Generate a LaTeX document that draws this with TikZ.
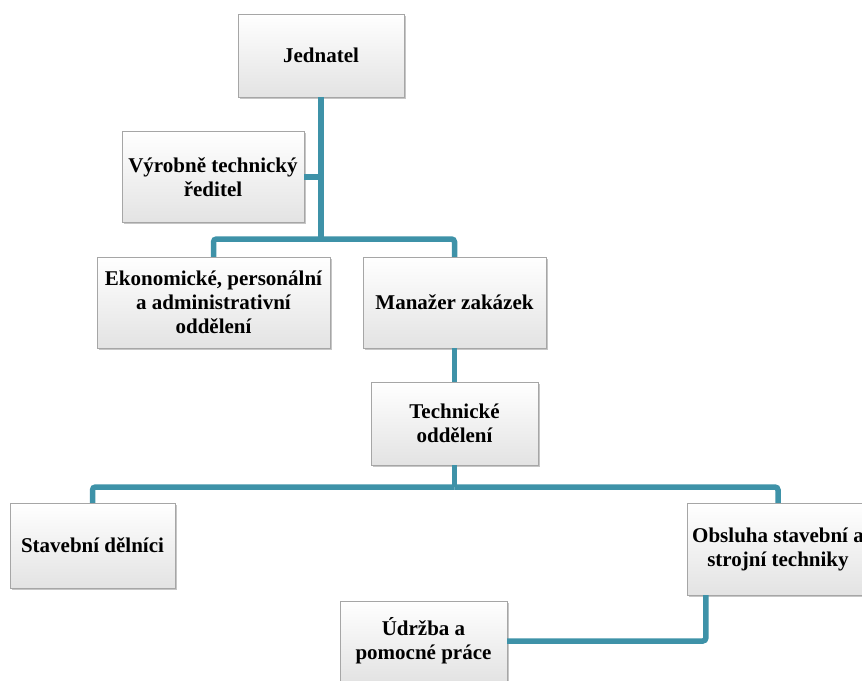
\documentclass[tikz,border=0pt]{standalone}
\usepackage{fontspec}
\setmainfont{Liberation Serif}
\usetikzlibrary{calc,shadows}

\definecolor{linkcol}{RGB}{62,146,168}

\begin{document}
\begin{tikzpicture}[x=1pt, y=-1pt,
                    box/.style ={rectangle, draw=gray!70, top color=white, bottom color=gray!22,
                                 align=center, inner sep=0pt, font=\fontsize{21}{24}\selectfont\bfseries,
                                 drop shadow={shadow xshift=1.5pt, shadow yshift=-1.5pt, opacity=0.45}},
                    link/.style={draw=linkcol, line width=5.5pt, rounded corners=3pt}]

      \useasboundingbox (0,0) rectangle (862,680);
      \node[box, minimum width=166pt, minimum height=83pt] at(321, 55.5)  (jednatel) {Jednatel};
      \node[box, minimum width=182pt, minimum height=91pt] at(213, 177)   (vyroba)   {Výrobně technický\\ředitel};
      \node[box, minimum width=233pt, minimum height=91pt] at(213.5, 302.5) (ekon)   {Ekonomické, personální\\a administrativní\\oddělení};
      \node[box, minimum width=183pt, minimum height=91pt] at(454.5, 302.5) (manazer) {Manažer zakázek};
      \node[box, minimum width=167pt, minimum height=83pt] at(454.5, 423.5) (tech)   {Technické\\oddělení};
      \node[box, minimum width=165pt, minimum height=85pt] at(92.5, 545.5)  (stav)   {Stavební dělníci};
      \node[box, minimum width=182pt, minimum height=92pt] at(778, 549)     (obsl)   {Obsluha stavební a\\strojní techniky};
      \node[box, minimum width=167pt, minimum height=80pt] at(423.5, 641)   (udrz)   {Údržba a\\pomocné práce};
      \coordinate (top)  at(321, 239);
      \coordinate (mid)  at(454.5, 487);
      \coordinate (obsb) at($(obsl.south west)+(19, 0)$);
      \path[link] (jednatel) -- (top);
      \path[link] (top) -| (ekon);
      \path[link] (top) -| (manazer);
      \path[link] (vyroba.east) -- (vyroba.east -| top);
      \path[link] (manazer) -- (tech);
      \path[link] (tech) -- (mid);
      \path[link] (mid) -| (stav);
      \path[link] (mid) -| (obsl);
      \path[link] (obsb) |- (udrz.east);
    \end{tikzpicture}
\end{document}
